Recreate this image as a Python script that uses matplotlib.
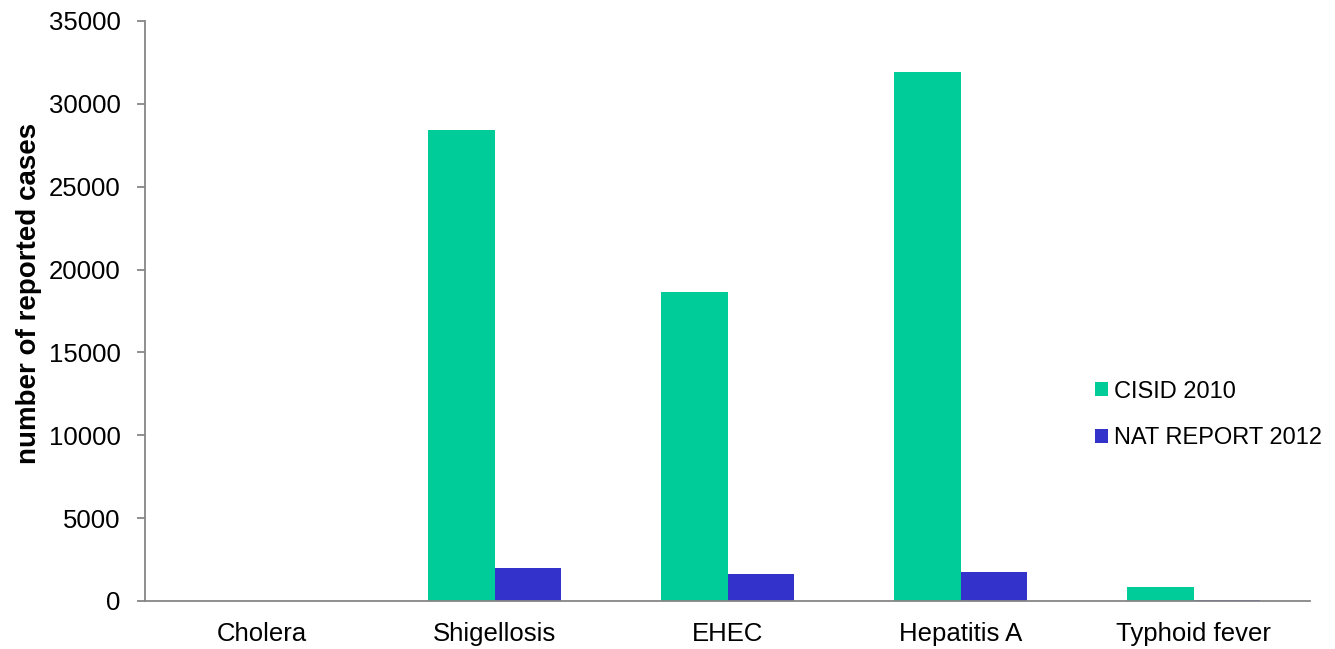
import matplotlib
matplotlib.use("Agg")
import matplotlib.pyplot as plt
import numpy as np

plt.rcParams['font.family'] = ['Liberation Sans', 'DejaVu Sans']

categories = ["Cholera", "Shigellosis", "EHEC", "Hepatitis A", "Typhoid fever"]
cisid_2010 = [0, 28400, 18650, 31900, 850]
nat_report_2012 = [0, 1990, 1630, 1750, 60]
series_names = ["CISID 2010", "NAT REPORT 2012"]
y_ticks = [0, 5000, 10000, 15000, 20000, 25000, 30000, 35000]

green = "#00CC99"
blue = "#3333CC"
axis_grey = "#868686"

W, H = 1335, 649
fig = plt.figure(figsize=(W / 100, H / 100), dpi=100)
ax = fig.add_axes([145 / W, 1 - 601 / H, (1310 - 145) / W, (601 - 21) / H])

x = np.arange(len(categories))
w = 1 / 3.5
b1 = ax.bar(x - w / 2, cisid_2010, width=w, color=green, label=series_names[0])
b2 = ax.bar(x + w / 2, nat_report_2012, width=w, color=blue, label=series_names[1])

ax.set_xlim(-0.5, len(categories) - 0.5)
ax.set_ylim(0, 35000)
ax.set_yticks(y_ticks)
ax.set_yticklabels([str(t) for t in y_ticks], fontsize=18.5)
ax.set_xticks(x)
ax.set_xticklabels(categories, fontsize=18.5)

for s in ["top", "right"]:
    ax.spines[s].set_visible(False)
for s in ["left", "bottom"]:
    ax.spines[s].set_color(axis_grey)
    ax.spines[s].set_linewidth(1.3)

ax.tick_params(axis="y", direction="out", length=5.5, width=1.3, color=axis_grey, pad=12)
ax.tick_params(axis="x", length=0, pad=15)

fig.text(29 / W, 1 - 293 / H, "number of reported cases", rotation=90,
         fontsize=20, fontweight="bold", ha="center", va="center")

fig.legend(handles=[b1, b2], labels=series_names, loc="center left",
           bbox_to_anchor=(1095 / W, 1 - 415 / H), frameon=False,
           fontsize=17, handlelength=0.55, handleheight=0.55, handletextpad=0.25,
           labelspacing=1.05, borderpad=0, borderaxespad=0)

fig.savefig("out.png", dpi=100)
